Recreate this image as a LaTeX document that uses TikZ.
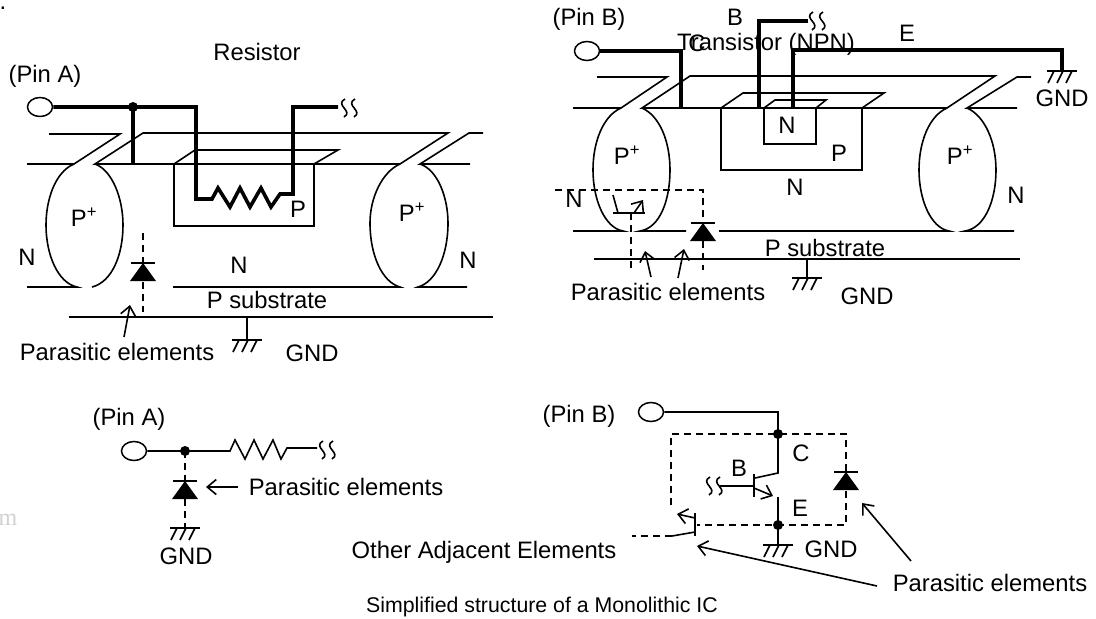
\documentclass[tikz,border=0pt]{standalone}
\usepackage{fontspec}
\setmainfont{Liberation Sans}
\newfontfamily\markfont{Liberation Serif}
\usetikzlibrary{arrows.meta}
\usetikzlibrary{shapes.geometric}
\pgfdeclarelayer{edgelayer}
\pgfdeclarelayer{nodelayer}
\pgfsetlayers{edgelayer,nodelayer,main}
\tikzstyle{txt}=[inner sep=0pt,font=\fontsize{23.8}{28}\selectfont]
\tikzstyle{small_txt}=[inner sep=0pt,font=\fontsize{21.3}{26}\selectfont]
\tikzstyle{pin}=[ellipse,draw=black,line width=1.5pt,inner sep=0pt,minimum width=25pt,minimum height=19pt]
\tikzstyle{junction}=[circle,fill=black,inner sep=0pt,minimum size=10pt]
\tikzstyle{wire}=[draw=black,line width=1.6pt]
\tikzstyle{thick_wire}=[draw=black,line width=3.6pt]
\tikzstyle{hidden_wire}=[draw=black,line width=1.6pt,dash pattern=on 7pt off 5pt]
\tikzstyle{pointer}=[-{Straight Barb[length=9pt,width=15pt]},draw=black,line width=1.6pt]
\newcommand{\Pplus}{P\textsuperscript{+}}
\newcommand{\gndmark}[2]{%
	\draw [style=wire] (#1-15, #2) -- (#1+15, #2);
	\foreach \i in {-8,1,10}
		\draw [style=wire] (#1+\i, #2) -- (#1+\i-6, #2+12);
}
\newcommand{\breakmark}[2]{%
	\foreach \i in {0,10}
		\draw [style=wire] (#1+\i+1, #2-9) .. controls (#1+\i-10, #2-3) and (#1+\i+10, #2+3) .. (#1+\i, #2+9);
}
\newcommand{\diodemark}[2]{%
	\draw [style=wire] (#1-12, #2) -- (#1+12, #2);
	\fill (#1, #2) -- (#1+13, #2+18) -- (#1-13, #2+18) -- cycle;
}

\begin{document}
\begin{tikzpicture}[x=1pt,y=-1pt]
	\useasboundingbox (0, 0) rectangle (1096, 619);
	\begin{pgfonlayer}{nodelayer}
		\node [style=txt] (0) at (3, 8) {.};
		\node [style=txt] (1) at (257, 52) {Resistor};
		\node [style=txt] (2) at (45, 76) {(Pin A)};
		\node [style=txt] (3) at (84, 217) {\Pplus};
		\node [style=txt] (4) at (27, 257) {N};
		\node [style=txt] (5) at (298, 209) {P};
		\node [style=txt] (6) at (412, 212) {\Pplus};
		\node [style=txt] (7) at (468, 260) {N};
		\node [style=txt] (8) at (239, 265) {N};
		\node [style=txt] (9) at (267, 300) {P substrate};
		\node [style=txt] (10) at (117, 352) {Parasitic elements};
		\node [style=txt] (11) at (312, 353) {GND};
		\node [style=txt] (12) at (589, 19) {(Pin B)};
		\node [style=txt] (13) at (766, 44) {Transistor (NPN)};
		\node [style=txt] (14) at (697, 43) {C};
		\node [style=txt] (15) at (735, 17) {B};
		\node [style=txt] (16) at (907, 33) {E};
		\node [style=txt] (17) at (1062, 98) {GND};
		\node [style=txt] (18) at (787, 125) {N};
		\node [style=txt] (19) at (839, 153) {P};
		\node [style=txt] (20) at (627, 155) {\Pplus};
		\node [style=txt] (21) at (960, 155) {\Pplus};
		\node [style=txt] (22) at (795, 187) {N};
		\node [style=txt] (23) at (574, 199) {N};
		\node [style=txt] (24) at (1016, 195) {N};
		\node [style=txt] (25) at (825, 248) {P substrate};
		\node [style=txt] (26) at (668, 292) {Parasitic elements};
		\node [style=txt] (27) at (867, 296) {GND};
		\node [style=txt] (28) at (129, 419) {(Pin A)};
		\node [style=txt] (29) at (346, 487) {Parasitic elements};
		\node [style=txt] (30) at (186, 556) {GND};
		\node [style=txt] (31) at (484, 552) {Other Adjacent Elements};
		\node [style=txt] (32) at (579, 416) {(Pin B)};
		\node [style=txt] (33) at (801, 453) {C};
		\node [style=txt] (34) at (739, 468) {B};
		\node [style=txt] (35) at (800, 508) {E};
		\node [style=txt] (36) at (831, 549) {GND};
		\node [style=txt] (37) at (990, 583) {Parasitic elements};
		\node [style=small_txt] (38) at (542, 607) {Simplified structure of a Monolithic IC};
		\node [style=txt, text=black!18, font=\fontsize{24}{28}\markfont] (39) at (8, 520) {m};
		\node [style=pin] (pinA) at (40, 107) {};
		\node [style=pin] (pinB) at (587, 51) {};
		\node [style=pin] (pinA2) at (134, 451) {};
		\node [style=pin] (pinB2) at (651, 412) {};
		\node [style=junction] (j1) at (133, 107) {};
		\node [style=junction] (j2) at (185, 451) {};
		\node [style=junction] (j3) at (778, 434) {};
		\node [style=junction] (j4) at (778, 525) {};
	\end{pgfonlayer}
	\begin{pgfonlayer}{edgelayer}
		% resistor section
		\draw [style=wire] (49, 134) -- (120, 134) -- (74, 164) -- (27, 164);
		\draw [style=wire] (400, 164) -- (95, 164) -- (143, 133) -- (448, 133) -- (400, 164);
		\draw [style=wire] (483, 133) -- (469, 133) -- (420, 164) -- (470, 164);
		\draw [style=wire] (174, 164) -- (195, 150) -- (338, 150) -- (314, 164) -- (314, 226) -- (174, 226) -- cycle;
		\draw [style=wire] (74, 164) .. controls (55, 172) and (46, 200) .. (46, 225) .. controls (46, 255) and (58, 283) .. (77, 287) -- (27, 287);
		\draw [style=wire] (95, 164) .. controls (112, 170) and (123, 198) .. (123, 225) .. controls (123, 255) and (112, 282) .. (92, 287);
		\draw [style=wire] (400, 164) .. controls (382, 172) and (370, 198) .. (370, 223) .. controls (370, 255) and (382, 282) .. (400, 287) -- (173, 287);
		\draw [style=wire] (420, 164) .. controls (438, 170) and (448, 198) .. (448, 223) .. controls (448, 255) and (436, 282) .. (418, 287) -- (467, 287);
		\draw [style=wire] (69, 317) -- (493, 317);
		\draw [style=wire] (247, 317) -- (247, 340);
		\gndmark{247}{340}
		\draw [style=thick_wire] (pinA.east) -- (j1.center) -- (196, 107) -- (196, 199) -- (212, 199) -- (218, 188) -- (230, 207) -- (240, 188) -- (250, 207) -- (261, 188) -- (271, 207) -- (280, 194) -- (293, 194) -- (293, 107) -- (338, 107);
		\draw [style=thick_wire] (j1.center) -- (133, 164);
		\breakmark{344}{108}
		\draw [style=hidden_wire] (143, 233) -- (143, 263);
		\draw [style=hidden_wire] (143, 282) -- (143, 312);
		\diodemark{143}{263}
		\draw [style=pointer] (124, 337) -- (130, 305);
		% transistor section
		\draw [style=wire] (597, 77) -- (667, 77) -- (621, 108) -- (573, 108);
		\draw [style=wire] (947, 108) -- (642, 108) -- (690, 76) -- (995, 76) -- (947, 108);
		\draw [style=wire] (1031, 77) -- (1017, 77) -- (967, 108) -- (1017, 108);
		\draw [style=wire] (721, 108) -- (743, 93) -- (884, 93) -- (862, 108) -- (862, 170) -- (721, 170) -- cycle;
		\draw [style=wire] (764, 108) -- (775, 100) -- (826, 100) -- (816, 108) -- (816, 144) -- (764, 144) -- cycle;
		\draw [style=wire] (621, 108) .. controls (603, 116) and (593, 142) .. (593, 170) .. controls (593, 200) and (605, 228) .. (623, 231) -- (573, 231);
		\draw [style=wire] (642, 108) .. controls (660, 116) and (670, 142) .. (670, 170) .. controls (670, 200) and (660, 228) .. (640, 231) -- (686, 231);
		\draw [style=wire] (947, 108) .. controls (929, 116) and (919, 142) .. (919, 170) .. controls (919, 200) and (931, 228) .. (949, 231) -- (719, 231);
		\draw [style=wire] (967, 108) .. controls (985, 116) and (996, 142) .. (996, 170) .. controls (996, 200) and (985, 228) .. (965, 231) -- (1014, 231);
		\draw [style=wire] (594, 259) -- (1020, 259);
		\draw [style=wire] (807, 259) -- (807, 278);
		\gndmark{807}{278}
		\draw [style=thick_wire] (pinB.east) -- (681, 51) -- (681, 108);
		\draw [style=thick_wire] (759, 108) -- (759, 21) -- (808, 21);
		\draw [style=thick_wire] (793, 108) -- (793, 50) -- (1062, 50) -- (1062, 71);
		\breakmark{812}{21}
		\gndmark{1062}{71}
		\draw [style=hidden_wire] (555, 190) -- (703, 190) -- (703, 223);
		\draw [style=hidden_wire] (703, 241) -- (703, 270);
		\diodemark{703}{223}
		\draw [style=wire] (613, 195) -- (618, 213);
		\draw [style=wire] (613, 213) -- (645, 213);
		\draw [style=pointer] (634, 213) -- (643, 200);
		\draw [style=hidden_wire] (631, 213) -- (631, 272);
		\draw [style=pointer] (651, 277) -- (645, 251);
		\draw [style=pointer] (678, 278) -- (684, 249);
		% lower left circuit
		\draw [style=wire] (pinA2.east) -- (j2.center) -- (230, 451) -- (235, 440) -- (245, 459) -- (254, 440) -- (263, 459) -- (273, 440) -- (281, 459) -- (287, 448) -- (317, 448);
		\breakmark{322}{450}
		\draw [style=hidden_wire] (j2.center) -- (185, 481);
		\draw [style=hidden_wire] (185, 499) -- (185, 528);
		\diodemark{185}{481}
		\gndmark{185}{528}
		\draw [style=pointer] (238, 487) -- (206, 487);
		% lower right circuit
		\draw [style=wire] (pinB2.east) -- (778, 412) -- (j3.center) -- (778, 473) -- (755, 478);
		\draw [style=wire] (754, 474) -- (754, 497);
		\draw [style=wire] (720, 486) -- (754, 486);
		\breakmark{709}{486}
		\draw [style=pointer] (754, 488) -- (773, 496);
		\draw [style=wire] (778, 497) -- (j4.center) -- (778, 545);
		\gndmark{778}{545}
		\draw [style=hidden_wire] (671, 505) -- (671, 434) -- (j3.center) -- (846, 434) -- (846, 472);
		\draw [style=hidden_wire] (846, 491) -- (846, 525) -- (j4.center) -- (697, 525);
		\diodemark{846}{472}
		\draw [style=wire] (695, 513) -- (695, 536);
		\draw [style=pointer] (695, 518) -- (677, 514);
		\draw [style=wire] (695, 532) -- (672, 536);
		\draw [style=hidden_wire] (672, 536) -- (632, 536);
		\draw [style=pointer] (877, 586) -- (697, 546);
		\draw [style=pointer] (911, 561) -- (862, 503);
	\end{pgfonlayer}
\end{tikzpicture}
\end{document}
